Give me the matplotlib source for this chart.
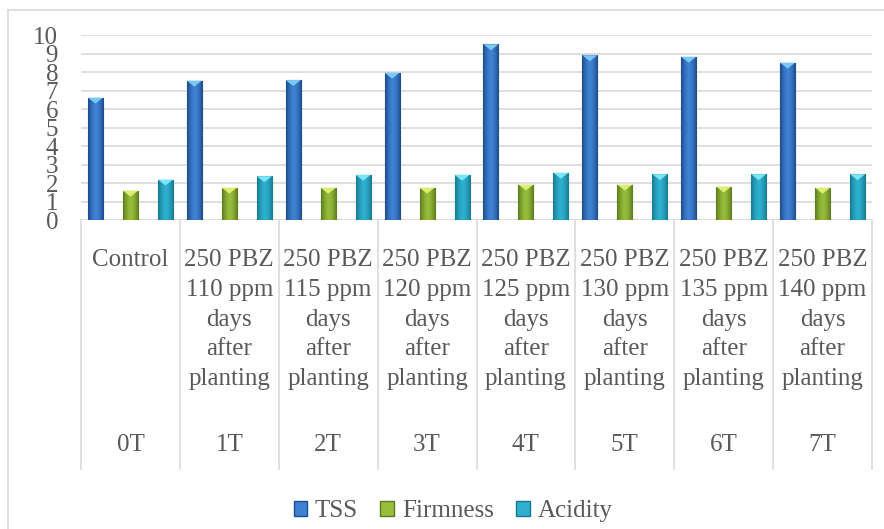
import numpy as np
import matplotlib.pyplot as plt
import matplotlib.transforms as mtransforms
from matplotlib.patches import Patch, Polygon
from matplotlib.lines import Line2D

# data
level1 = ['Control',
          '250 PBZ\n110 ppm\ndays\nafter\nplanting',
          '250 PBZ\n115 ppm\ndays\nafter\nplanting',
          '250 PBZ\n120 ppm\ndays\nafter\nplanting',
          '250 PBZ\n125 ppm\ndays\nafter\nplanting',
          '250 PBZ\n130 ppm\ndays\nafter\nplanting',
          '250 PBZ\n135 ppm\ndays\nafter\nplanting',
          '250 PBZ\n140 ppm\ndays\nafter\nplanting']
level2 = ['0T', '1T', '2T', '3T', '4T', '5T', '6T', '7T']

tss = [6.63, 7.55, 7.58, 7.98, 9.51, 8.92, 8.84, 8.52]
firmness = [1.60, 1.76, 1.76, 1.76, 1.93, 1.93, 1.82, 1.76]
acidity = [2.20, 2.38, 2.46, 2.46, 2.57, 2.49, 2.49, 2.49]

series = [('TSS', tss), ('Firmness', firmness), ('Acidity', acidity)]
# (mid colour, dark edge colour, bevel colour)
colors = [('#3f82d4', '#1d4a8a', '#7cc8f4'),
          ('#98bc3c', '#5a7a1c', '#dcee70'),
          ('#2fb0cf', '#16788f', '#7be6f7')]

plt.rcParams['font.family'] = ['Liberation Serif', 'DejaVu Serif']
text_col = '#595959'
grid_col = '#d9d9d9'

W, H = 884, 529
fig = plt.figure(figsize=(W / 100, H / 100), dpi=100)
x0, x1, ytop, ybot = 81, 872, 35.3, 220.3
ax = fig.add_axes([x0 / W, 1 - ybot / H, (x1 - x0) / W, (ybot - ytop) / H])

n = len(level2)
ax.set_xlim(0, n)
ax.set_ylim(0, 10)
ax.set_yticks(range(0, 11))
ax.set_xticks([])
for s in ax.spines.values():
    s.set_visible(False)
ax.tick_params(axis='y', length=0, pad=16.5, labelsize=18, labelcolor=text_col)
ax.yaxis.grid(True, color=grid_col, linewidth=1.2)
ax.set_axisbelow(True)
ax.axhline(0, color=grid_col, linewidth=1.2, zorder=1)

offsets = [-0.354, 0.0, 0.354]
bw = 0.152
xs = np.arange(n) + 0.5

# horizontal gradient: dark edges, light middle
grad = np.linspace(-1, 1, 64)
weight = 1 - np.abs(grad) ** 1.6

for (name, vals), off, (mid, dark, bev) in zip(series, offsets, colors):
    bars = ax.bar(xs + off, vals, width=bw, color=mid, edgecolor=dark,
                  linewidth=0.8, zorder=2)
    c_mid = np.array(plt.matplotlib.colors.to_rgb(mid))
    c_dark = np.array(plt.matplotlib.colors.to_rgb(dark))
    img = (c_dark[None, :] * (1 - weight[:, None]) + c_mid[None, :] * weight[:, None])
    img = img[None, :, :]
    for b in bars:
        bx, by = b.get_x(), b.get_height()
        im = ax.imshow(img, extent=(bx, bx + bw, 0, by), aspect='auto',
                       zorder=2.5, interpolation='bilinear')
        im.set_clip_path(b)
        d = 0.32
        tri = Polygon([(bx, by), (bx + bw, by), (bx + bw / 2, by - d)],
                      closed=True, facecolor=bev, edgecolor='none', zorder=3)
        ax.add_patch(tri)
    ax.set_xlim(0, n)
    ax.set_ylim(0, 10)

# multi-level category axis
trans = mtransforms.blended_transform_factory(ax.transData, ax.transAxes)
axh = ybot - ytop


def py(p):
    return (ybot - p) / axh


for k in range(n + 1):
    ax.plot([k, k], [0, py(469)], transform=trans, color=grid_col,
            linewidth=1.2, clip_on=False)

for i in range(n):
    for j, line in enumerate(level1[i].split('\n')):
        ax.text(xs[i], py(260 + 29.8 * j), line, transform=trans, ha='center',
                va='center', fontsize=18, color=text_col)
    ax.text(xs[i], py(445), level2[i], transform=trans, ha='center',
            va='center', fontsize=18, color=text_col)

# chart border
fig.add_artist(Line2D([8 / W, 1], [1 - 10 / H, 1 - 10 / H], color=grid_col,
                      linewidth=1.2))
fig.add_artist(Line2D([8 / W, 8 / W], [0, 1 - 10 / H], color=grid_col,
                      linewidth=1.2))

handles = [Patch(facecolor=c[0], edgecolor=c[1]) for c in colors]
fig.legend(handles, [s[0] for s in series], loc='center',
           bbox_to_anchor=(453 / W, 1 - 511 / H), ncol=3, frameon=False,
           fontsize=18, labelcolor=text_col, handlelength=0.55,
           handleheight=0.55, handletextpad=0.3, columnspacing=0.9)

fig.savefig('out.png', dpi=100)
